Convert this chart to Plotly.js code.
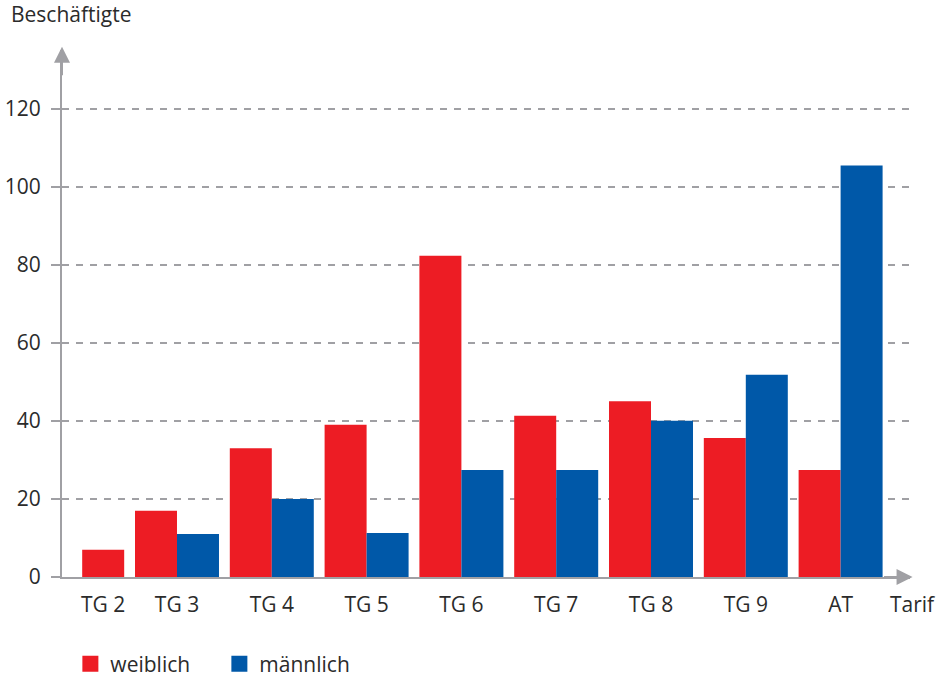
<!DOCTYPE html>
<html>
<head>
<meta charset="utf-8">
<script src="https://cdn.plot.ly/plotly-3.0.1.min.js"></script>
<style>
  html, body { margin: 0; padding: 0; background: #ffffff; }
  #chart { width: 951px; height: 679px; }
</style>
</head>
<body>
<div id="chart"></div>
<script>
// ---- data ----
const categories = ['TG 2', 'TG 3', 'TG 4', 'TG 5', 'TG 6', 'TG 7', 'TG 8', 'TG 9', 'AT'];
const weiblich   = [7, 17, 33, 39, 82.3, 41.3, 45, 35.6, 27.4];
const maennlich  = [0, 11, 20, 11.3, 27.4, 27.4, 40, 51.8, 105.4];
const yTicks     = [0, 20, 40, 60, 80, 100, 120];
const seriesNames = ['weiblich', 'männlich'];

// ---- styling ----
const RED = '#ED1C24';
const BLUE = '#0058A8';
const GRAY = '#A0A0A4';
const TEXT = '#2b2b2b';
const FONT = '"Open Sans", "DejaVu Sans", sans-serif';
const FS = 21;
const BAR_W = 0.443;

const idx = categories.map((c, i) => i);
// groups without a male value show the female bar alone, centred on its label
const wOffset = maennlich.map(v => v > 0 ? -BAR_W : 0);
const tickPos = idx.map(i => maennlich[i] > 0 ? i : i + BAR_W / 2);

const traces = [
  {
    type: 'bar', x: idx, y: weiblich, name: seriesNames[0],
    width: BAR_W, offset: wOffset,
    marker: { color: RED, line: { width: 0 } },
    showlegend: false, legendgroup: 'w', hoverinfo: 'y'
  },
  {
    type: 'bar', x: idx, y: maennlich, name: seriesNames[1],
    width: BAR_W, offset: 0,
    marker: { color: BLUE, line: { width: 0 } },
    showlegend: false, legendgroup: 'm', hoverinfo: 'y'
  },
  // legend proxies (larger square symbols)
  {
    type: 'scatter', mode: 'markers', x: [null], y: [null], name: seriesNames[0],
    marker: { symbol: 'square', size: 18, color: RED }, legendgroup: 'w'
  },
  {
    type: 'scatter', mode: 'markers', x: [null], y: [null], name: seriesNames[1],
    marker: { symbol: 'square', size: 18, color: BLUE }, legendgroup: 'm'
  }
];

const layout = {
  width: 951, height: 679,
  paper_bgcolor: '#ffffff', plot_bgcolor: '#ffffff',
  margin: { l: 62, r: 41, t: 50, b: 102, pad: 0 },
  font: { family: FONT, size: FS, color: TEXT },
  barmode: 'overlay',
  xaxis: {
    type: 'linear',
    range: [-0.213, 8.732],
    tickmode: 'array', tickvals: tickPos, ticktext: categories,
    ticks: '', showgrid: false, zeroline: false,
    showline: true, linecolor: GRAY, linewidth: 2,
    tickfont: { family: FONT, size: FS, color: TEXT },
    ticklabelstandoff: 8,
    automargin: false,
    fixedrange: true
  },
  yaxis: {
    range: [0, 135],
    tickmode: 'array', tickvals: yTicks, ticktext: yTicks.map(String),
    ticks: 'outside', ticklen: 9, tickwidth: 2, tickcolor: GRAY,
    showgrid: true, gridcolor: GRAY, gridwidth: 2, griddash: '7px,7px',
    zeroline: false,
    showline: true, linecolor: GRAY, linewidth: 2,
    tickfont: { family: FONT, size: FS, color: TEXT },
    ticklabelstandoff: 6,
    automargin: false,
    fixedrange: true
  },
  showlegend: true,
  legend: {
    orientation: 'h',
    xref: 'container', yref: 'container',
    x: 0.074, xanchor: 'left',
    y: 0.022, yanchor: 'middle',
    font: { family: FONT, size: FS, color: TEXT },
    itemsizing: 'trace',
    entrywidth: 104,
    tracegroupgap: 0,
    borderwidth: 0,
    bgcolor: 'rgba(0,0,0,0)'
  },
  annotations: [
    {
      text: 'Beschäftigte', xref: 'paper', yref: 'paper',
      x: -0.063, y: 1.098, xanchor: 'left', yanchor: 'top',
      showarrow: false, font: { family: FONT, size: FS, color: TEXT }
    },
    {
      text: 'Tarif', xref: 'paper', yref: 'paper',
      x: 0.974, y: -0.052, xanchor: 'left', yanchor: 'middle',
      showarrow: false, font: { family: FONT, size: FS, color: TEXT }
    },
    // axis arrowheads
    {
      text: '', xref: 'paper', yref: 'paper', x: 0, y: 1.006,
      ax: 0, ay: 30, showarrow: true, arrowhead: 2, arrowsize: 1.6,
      arrowwidth: 2, arrowcolor: GRAY, standoff: 0
    },
    {
      text: '', xref: 'paper', yref: 'paper', x: 1.003, y: 0,
      ax: -30, ay: 0, showarrow: true, arrowhead: 2, arrowsize: 1.6,
      arrowwidth: 2, arrowcolor: GRAY, standoff: 0
    }
  ]
};

Plotly.newPlot('chart', traces, layout, { displayModeBar: false, staticPlot: true });
</script>
</body>
</html>
